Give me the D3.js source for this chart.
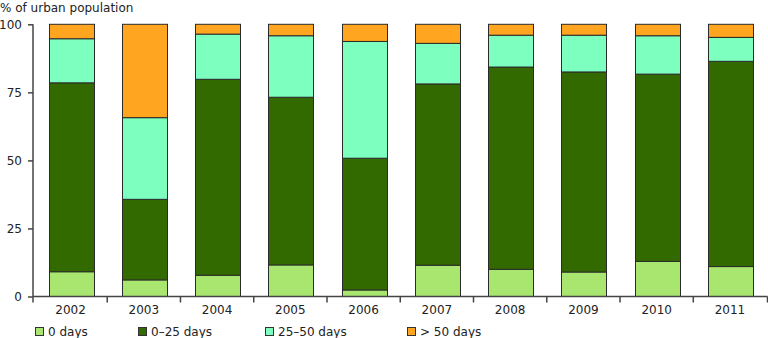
<!DOCTYPE html>
<html>
<head>
<meta charset="utf-8">
<script src="https://cdn.jsdelivr.net/npm/d3@7/dist/d3.min.js"></script>
<style>
  html, body { margin: 0; padding: 0; background: #fff; }
  svg { display: block; font-family: "DejaVu Sans", Verdana, sans-serif; }
</style>
</head>
<body>
<svg id="chart" width="768" height="338"></svg>
<script>
// Share of urban population by number of days exceeding the threshold
const years = ["2002", "2003", "2004", "2005", "2006", "2007", "2008", "2009", "2010", "2011"];
const seriesNames = ["0 days", "0\u201325 days", "25\u201350 days", "> 50 days"];
const days0    = [9.1, 6.1, 7.8, 11.6, 2.4, 11.5, 10.0, 9.0, 12.9, 11.0];
const days0_25 = [69.4, 29.6, 72.0, 61.6, 48.4, 66.6, 74.3, 73.5, 68.8, 75.4];
const days25_50 = [16.2, 30.0, 16.6, 22.6, 42.9, 14.9, 11.7, 13.5, 14.1, 8.8];
const daysOver50 = [5.3, 34.3, 3.6, 4.2, 6.3, 7.0, 4.0, 4.0, 4.2, 4.8];
const yTicks = [0, 25, 50, 75, 100];
const colors = ["#a8e670", "#336a00", "#7dffbf", "#ffa520"];

const rows = years.map((y, i) => ({
  year: y,
  [seriesNames[0]]: days0[i],
  [seriesNames[1]]: days0_25[i],
  [seriesNames[2]]: days25_50[i],
  [seriesNames[3]]: daysOver50[i]
}));
const stacked = d3.stack().keys(seriesNames)(rows);

const svg = d3.select("#chart");
const plotLeft = 33, plotRight = 767.5, plotTop = 24.3, plotBottom = 296.5;

const x = d3.scaleBand().domain(years).range([plotLeft, plotRight])
  .paddingInner(0.374).paddingOuter(0.2);
const y = d3.scaleLinear().domain([0, 100]).range([plotBottom, plotTop]);

// stacked bars
svg.append("g").selectAll("g").data(stacked).join("g")
  .attr("fill", (d, i) => colors[i])
  .selectAll("rect").data(d => d).join("rect")
  .attr("x", d => Math.round(x(d.data.year)) + 1.5)
  .attr("width", Math.round(x.bandwidth()) - 1)
  .attr("y", d => y(d[1]))
  .attr("height", d => y(d[0]) - y(d[1]))
  .attr("stroke", "#2a2a2a")
  .attr("stroke-width", 1);

// y axis
const yAxis = svg.append("g")
  .attr("transform", `translate(${plotLeft},0)`)
  .call(d3.axisLeft(y).tickValues(yTicks).tickSize(5).tickPadding(6));
yAxis.select(".domain").attr("stroke", "#444").attr("stroke-width", 1.5)
  .attr("d", `M0,${plotTop}V${plotBottom}`);
yAxis.selectAll(".tick line").attr("stroke", "#444").attr("stroke-width", 1.5);
yAxis.selectAll("text").attr("font-size", 12).attr("fill", "#222")
  .attr("font-family", "DejaVu Sans, Verdana, sans-serif");

// x axis: labels centred in bands, ticks on band boundaries
const xAxis = svg.append("g")
  .attr("transform", `translate(0,${plotBottom})`)
  .call(d3.axisBottom(x).tickSize(0).tickPadding(9));
xAxis.select(".domain").attr("stroke", "#444").attr("stroke-width", 1.5)
  .attr("d", `M${plotLeft},0H${plotRight}`);
xAxis.selectAll("text").attr("font-size", 12).attr("fill", "#222")
  .attr("font-family", "DejaVu Sans, Verdana, sans-serif");
const boundaries = years.map(d => x(d) - x.step() * x.paddingInner() / 2)
  .concat([plotRight]);
boundaries[0] = plotLeft;
xAxis.selectAll("line.bound").data(boundaries).join("line")
  .attr("class", "bound")
  .attr("x1", d => d).attr("x2", d => d)
  .attr("y1", 0).attr("y2", 6)
  .attr("stroke", "#444").attr("stroke-width", 1.5);

// axis title
svg.append("text")
  .attr("x", 0).attr("y", 12)
  .attr("font-size", 12).attr("fill", "#222")
  .text("% of urban population");

// legend
const legendX = [35, 138, 265, 407];
const legend = svg.append("g").selectAll("g").data(seriesNames).join("g")
  .attr("transform", (d, i) => `translate(${legendX[i]},327)`);
legend.append("rect")
  .attr("x", 0.5).attr("y", 0.5).attr("width", 8).attr("height", 8)
  .attr("fill", (d, i) => colors[i])
  .attr("stroke", "#333").attr("stroke-width", 1);
legend.append("text")
  .attr("x", 13).attr("y", 8.5)
  .attr("font-size", 12).attr("fill", "#222")
  .text(d => d);
</script>
</body>
</html>
